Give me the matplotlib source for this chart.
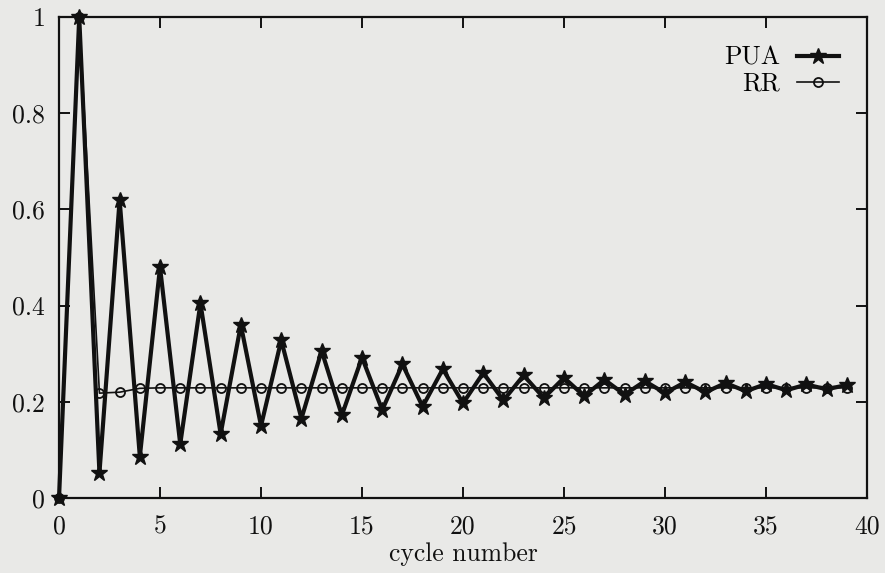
import numpy as np
import matplotlib.pyplot as plt

# cycle numbers and the two series
cycles = list(range(40))
pua = [0.0, 1.0, 0.052, 0.62, 0.086, 0.48, 0.112, 0.405, 0.133, 0.36,
       0.15, 0.328, 0.165, 0.306, 0.172, 0.292, 0.183, 0.278, 0.19, 0.268,
       0.197, 0.26, 0.203, 0.255, 0.208, 0.25, 0.212, 0.246, 0.215, 0.243,
       0.218, 0.241, 0.22, 0.239, 0.222, 0.237, 0.224, 0.236, 0.226, 0.235]
rr = [0.0, 1.0, 0.218, 0.22, 0.228, 0.229, 0.229, 0.229, 0.229, 0.229,
      0.229, 0.229, 0.229, 0.229, 0.229, 0.229, 0.229, 0.229, 0.229, 0.229,
      0.229, 0.229, 0.229, 0.229, 0.229, 0.229, 0.229, 0.229, 0.229, 0.229,
      0.229, 0.229, 0.229, 0.229, 0.229, 0.229, 0.229, 0.229, 0.229, 0.229]

xticks = [0, 5, 10, 15, 20, 25, 30, 35, 40]
yticks = [0, 0.2, 0.4, 0.6, 0.8, 1]
ytick_labels = ['0', '0.2', '0.4', '0.6', '0.8', '1']

plt.rcParams['font.family'] = ['cmr10', 'DejaVu Serif']
plt.rcParams['axes.formatter.use_mathtext'] = True

ink = '#111111'
bg = '#e9e9e7'
fs = 18.5
fig = plt.figure(figsize=(8.85, 5.73), dpi=100, facecolor=bg)
ax = fig.add_axes([0.0667, 0.1309, 0.913, 0.8394])
ax.set_facecolor(bg)

ax.plot(cycles, pua, color=ink, lw=3.0, marker='*', ms=12,
        mfc=ink, mec=ink, label='PUA', zorder=3, clip_on=False)
ax.plot(cycles, rr, color=ink, lw=1.2, marker='o', ms=6.5,
        mfc='none', mec=ink, mew=1.3, label='RR', zorder=4, clip_on=False)

ax.set_xlim(0, 40)
ax.set_ylim(0, 1)
ax.set_xticks(xticks)
ax.set_xticklabels([str(t) for t in xticks])
ax.set_yticks(yticks)
ax.set_yticklabels(ytick_labels)
ax.tick_params(direction='in', top=True, right=True, length=8, width=1.4,
               labelsize=fs, colors=ink)
ax.tick_params(axis='x', pad=12)
ax.tick_params(axis='y', pad=10)
for s in ax.spines.values():
    s.set_linewidth(1.6)
    s.set_color(ink)

ax.set_xlabel('cycle number', fontsize=fs, labelpad=3, color=ink)

leg = ax.legend(loc='upper right', bbox_to_anchor=(0.965, 0.94),
                frameon=False, markerfirst=False, fontsize=fs,
                handlelength=1.64, handletextpad=0.64, labelspacing=0.1,
                borderpad=0, borderaxespad=0)

fig.savefig('out.png', dpi=100, facecolor=bg)
